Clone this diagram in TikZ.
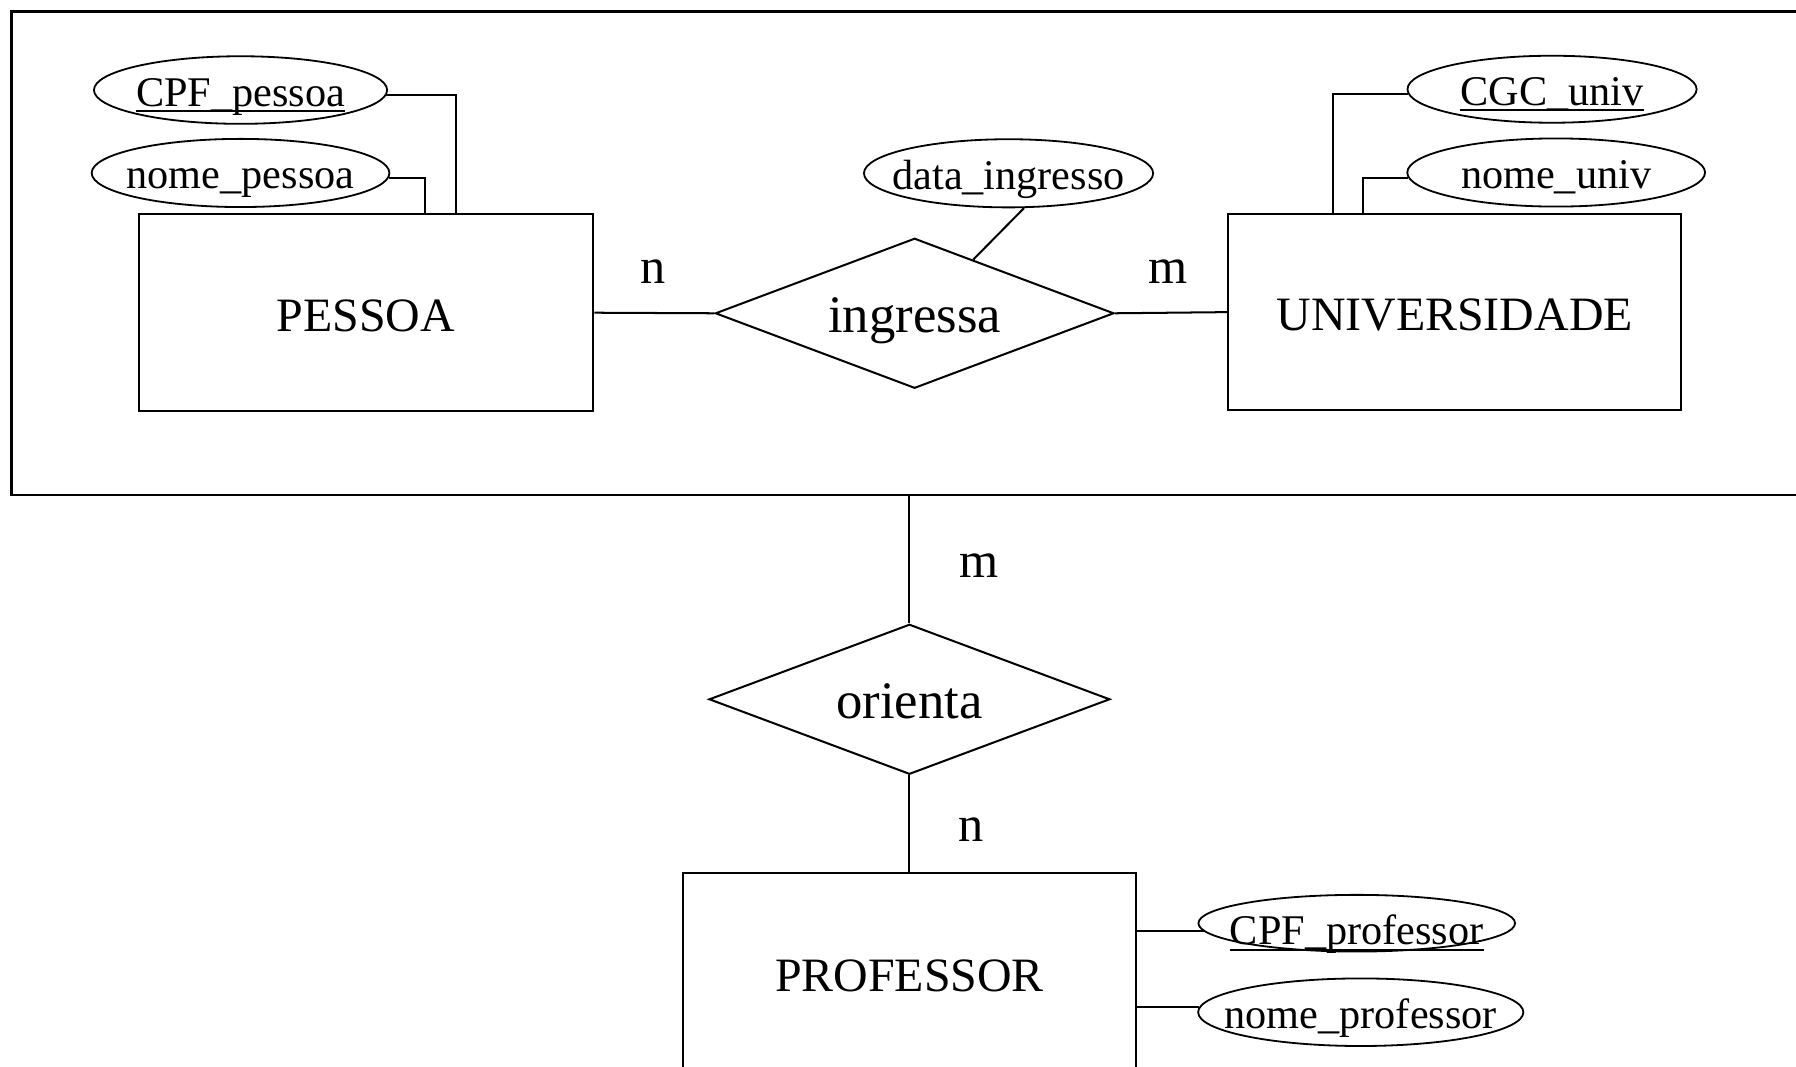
\documentclass[tikz,border=0pt]{standalone}
\usepackage{fontspec}
\setmainfont{Liberation Serif}
\newcommand{\keyul}[1]{\setbox0\hbox{#1}\rlap{\rule[-3pt]{\wd0}{1pt}}\box0}
\usetikzlibrary{shapes.geometric,calc}
\begin{document}
\begin{tikzpicture}[x=0.02cm,y=-0.02cm, line width=1pt,
 entity/.style={draw, rectangle, inner sep=0pt, text height=20pt, text depth=1.8pt, font=\fontsize{23.8}{28}\selectfont},
 rel/.style={draw, diamond, shape aspect=2.66, inner sep=0pt, text height=21pt, text depth=1.7pt, font=\fontsize{26.2}{30}\selectfont},
 attr/.style={draw, ellipse, inner ysep=-3pt, inner xsep=-12pt, text height=17pt, text depth=1.1pt, line width=0.9pt, font=\fontsize{21}{24}\selectfont},
 card/.style={inner sep=0pt, font=\fontsize{25}{30}\selectfont}]
\useasboundingbox (0,0) rectangle (1568,931);

% aggregation box (right side runs off the picture)
\coordinate (aggTR) at (1568,10);
\coordinate (aggTL) at (10,10);
\coordinate (aggBL) at (10,432);
\coordinate (aggBR) at (1568,432);
\coordinate (aggB) at (794,432);
\draw[line width=1.1pt] (aggTR) -- (aggTL) -- (aggBL) -- (aggBR);

% entities
\node[entity, minimum width=7.94cm, minimum height=3.44cm] (pessoa) at (319.5,273) {PESSOA};
\node[entity, minimum width=7.92cm, minimum height=3.42cm] (univ) at (1270,272.5) {UNIVERSIDADE};
\node[entity, minimum width=7.92cm, minimum height=3.52cm] (prof) at (794,850) {PROFESSOR};

% relationships
\node[rel, minimum width=6.96cm, minimum height=2.62cm] (ingressa) at (798.5,273.5) {ingressa};
\node[rel, minimum width=7.0cm, minimum height=2.62cm] (orienta) at (794,610.5) {orienta};

% attributes
\node[attr, minimum width=5.12cm, minimum height=1.18cm] (cpfp) at (210,78.6) {\keyul{CPF\_pessoa}};
\node[attr, minimum width=5.2cm, minimum height=1.19cm] (nomep) at (210,151) {nome\_pessoa};
\node[attr, minimum width=5.05cm, minimum height=1.19cm] (data) at (880.5,151.3) {data\_ingresso};
\node[attr, minimum width=5.05cm, minimum height=1.17cm] (cgc) at (1355,77.9) {\keyul{CGC\_univ}};
\node[attr, minimum width=5.2cm, minimum height=1.19cm] (nomeu) at (1358.6,150.6) {nome\_univ};
\node[attr, minimum width=5.53cm, minimum height=0.99cm, text height=22pt, text depth=0.4pt] (cpfprof) at (1184.5,806) {\keyul{CPF\_professor}};
\node[attr, minimum width=5.68cm, minimum height=1.18cm] (nomeprof) at (1188,883.7) {nome\_professor};

% connectors
\draw (pessoa.east) -- (ingressa.west);
\draw (ingressa.east) -- (univ.west);
\draw (data.-66) -- ($(ingressa.north)!0.293!(ingressa.east)$);
\draw (cpfp.-2) -| ($(pessoa.north west)+(278,0)$);
\draw (nomep.-2) -| ($(pessoa.north west)+(251,0)$);
\draw (cgc.182) -| ($(univ.north west)+(93,0)$);
\draw (nomeu.182) -| ($(univ.north west)+(119,0)$);
\draw (aggB) -- (orienta.north);
\draw (orienta.south) -- (prof.north);
\draw (cpfprof.183.5) -- (cpfprof.183.5 -| prof.east);
\draw (nomeprof.178.4) -- (nomeprof.178.4 -| prof.east);

% cardinalities
\node[card] (c1) at (570.4,237) {n};
\node[card] (c2) at (1020,237) {m};
\node[card] (c3) at (855,494) {m};
\node[card] (c4) at (847.5,724) {n};
\end{tikzpicture}
\end{document}
